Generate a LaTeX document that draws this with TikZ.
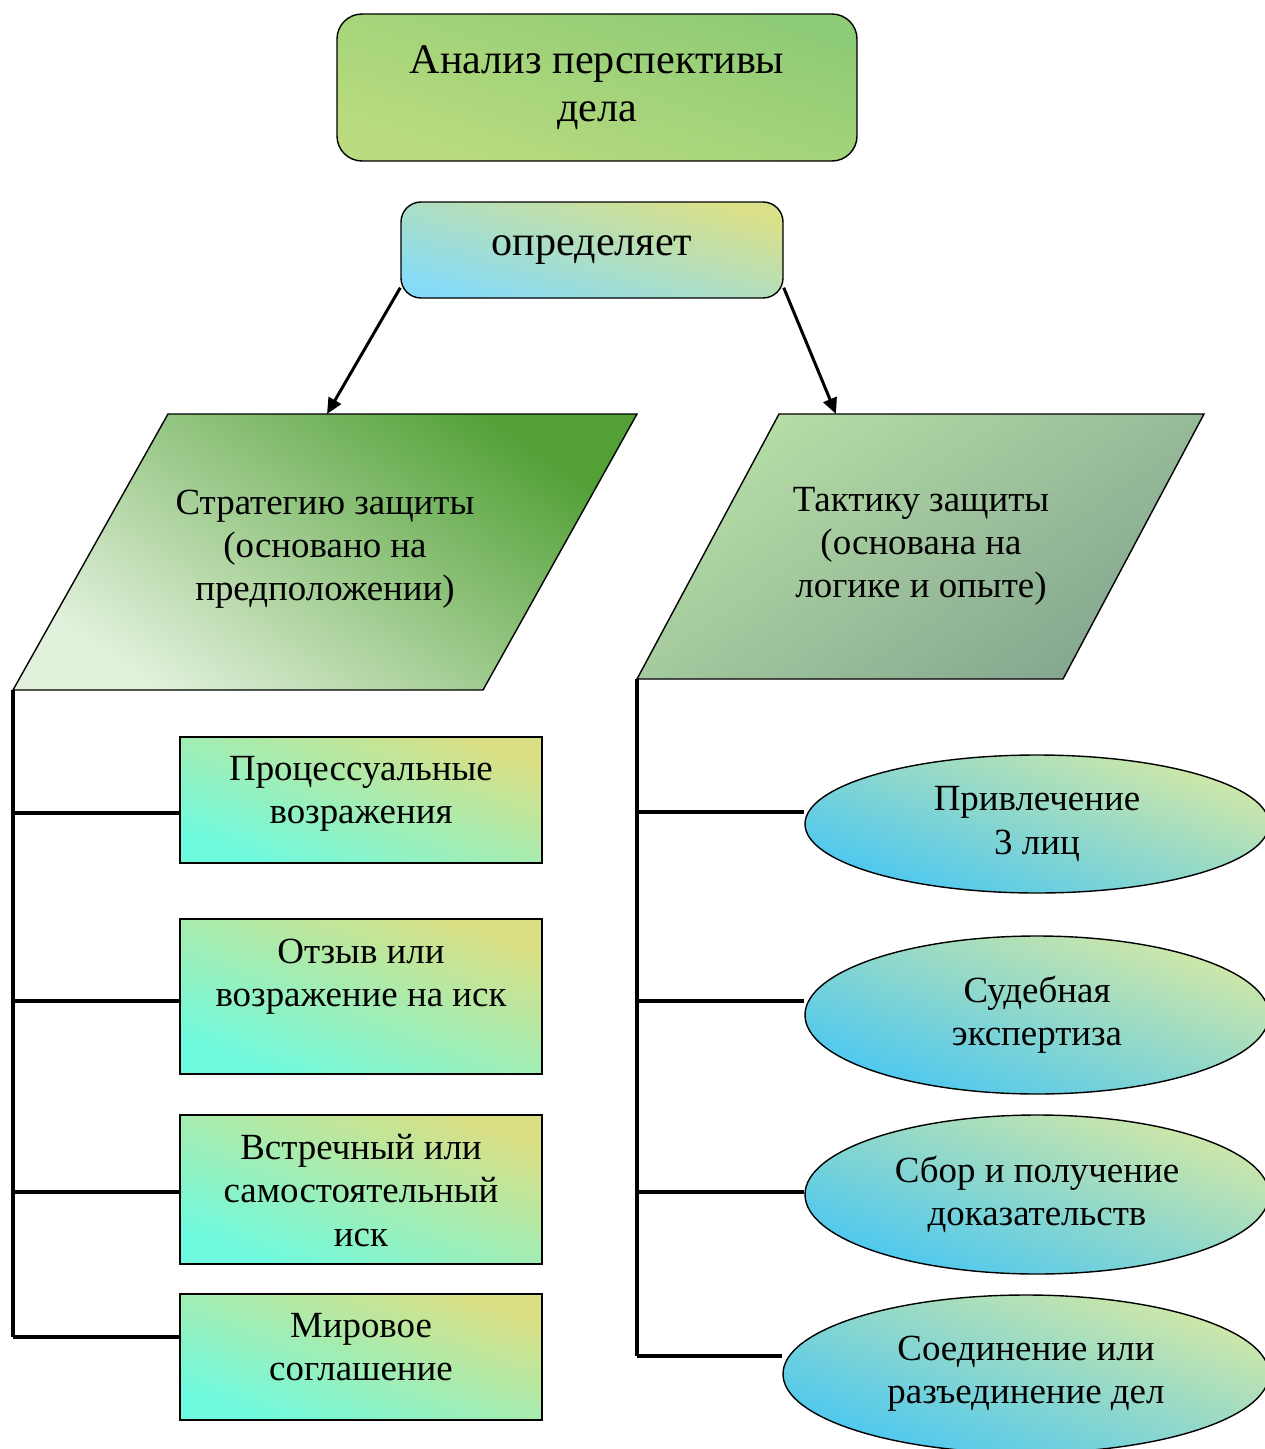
\documentclass[tikz,border=0pt]{standalone}
\usepackage{fontspec}
\setmainfont{Liberation Serif}
\usetikzlibrary{positioning}
\usetikzlibrary{arrows.meta}
\usetikzlibrary{shapes.geometric}
\definecolor{title_low}{HTML}{BADC7E}
\definecolor{title_high}{HTML}{8ECB76}
\definecolor{verb_low}{HTML}{86DCF8}
\definecolor{verb_high}{HTML}{DAE088}
\definecolor{strat_low}{HTML}{E2F1DC}
\definecolor{strat_high}{HTML}{52A036}
\definecolor{tact_low}{HTML}{B6DEA6}
\definecolor{tact_high}{HTML}{84A690}
\definecolor{box_low}{HTML}{6EFADF}
\definecolor{box_high}{HTML}{DADF84}
\definecolor{oval_low}{HTML}{4AC7F2}
\definecolor{oval_high}{HTML}{D2E8A6}
\tikzset{
        textnode/.style={align=center,inner sep=0pt,font=\fontsize{21}{24.5}\selectfont},
        % Title box
        node_title/.style={textnode, rectangle, rounded corners=0.5cm, draw=black, line width=0.8pt,
            bottom color=title_low, top color=title_high, shading angle=-18,
            minimum width=10.4cm, minimum height=2.94cm, font=\fontsize{24}{27.5}\selectfont},
        % Verb box
        node_verb/.style={textnode, rectangle, rounded corners=0.4cm, draw=black, line width=0.8pt,
            bottom color=verb_low, top color=verb_high, shading angle=-16,
            minimum width=7.64cm, minimum height=1.92cm, font=\fontsize{24}{27.5}\selectfont},
        % Strategy and tactics shapes
        shape_strategy/.style={draw=black, line width=0.8pt, bottom color=strat_low, top color=strat_high, shading angle=-35},
        shape_tactics/.style={draw=black, line width=0.8pt, top color=tact_low, bottom color=tact_high, shading angle=35},
        % Left boxes
        node_box/.style={rectangle, draw=black, line width=0.8pt, inner sep=0pt,
            bottom color=box_low, top color=box_high, shading angle=-21, minimum width=7.24cm},
        % Right ovals
        node_oval/.style={textnode, ellipse, draw=black, line width=0.8pt,
            bottom color=oval_low, top color=oval_high, shading angle=-20},
        arrow_link/.style={line width=1.7pt, -{Triangle[length=9pt,width=8pt]}},
        branch_line/.style={line width=2.3pt}
}
\begin{document}
\begin{tikzpicture}
    \useasboundingbox (0,0) rectangle (25.28,-28.98);

    \node[node_title] (title) at (11.94,-1.75) {Анализ перспективы\\дела};
    \node[node_verb] (verb) at (11.84,-5.0) {определяет};

    % strategy
    \coordinate (s1) at (3.36,-8.28);
    \coordinate (s2) at (12.74,-8.28);
    \coordinate (s3) at (9.66,-13.8);
    \coordinate (s4) at (0.26,-13.8);
    \path[shape_strategy] (s1) -- (s2) -- (s3) -- (s4) -- cycle;
    \node[textnode] (strategy) at (6.5,-10.98) {Стратегию защиты\\(основано на\\предположении)};
    \coordinate (strategy_top) at (6.54,-8.28);

    % tactics
    \coordinate (t1) at (15.58,-8.28);
    \coordinate (t2) at (24.08,-8.28);
    \coordinate (t3) at (21.26,-13.58);
    \coordinate (t4) at (12.74,-13.58);
    \path[shape_tactics] (t1) -- (t2) -- (t3) -- (t4) -- cycle;
    \node[textnode] (tactics) at (18.42,-10.93) {Тактику защиты\\(основана на\\логике и опыте)};
    \coordinate (tactics_top) at (16.72,-8.28);

    \draw[arrow_link] ([yshift=0.22cm]verb.south west) -- (strategy_top);
    \draw[arrow_link] ([yshift=0.22cm]verb.south east) -- (tactics_top);

    % left boxes
    \node[node_box, minimum height=2.52cm] (proc) at (7.22,-16.0) {};
    \node[textnode, below=0.4cm of proc.north] (proc_text) {Процессуальные\\возражения};
    \node[node_box, minimum height=3.1cm] (reply) at (7.22,-19.93) {};
    \node[textnode, below=0.4cm of reply.north] (reply_text) {Отзыв или\\возражение на иск};
    \node[node_box, minimum height=2.98cm] (counter) at (7.22,-23.79) {};
    \node[textnode, below=0.4cm of counter.north] (counter_text) {Встречный или\\самостоятельный\\иск};
    \node[node_box, minimum height=2.52cm] (settle) at (7.22,-27.14) {};
    \node[textnode, below=0.4cm of settle.north] (settle_text) {Мировое\\соглашение};

    % right ovals
    \node[node_oval, minimum width=9.28cm, minimum height=2.76cm] (third) at (20.74,-16.48) {Привлечение\\3 лиц};
    \node[node_oval, minimum width=9.28cm, minimum height=3.16cm] (expert) at (20.74,-20.3) {Судебная\\экспертиза};
    \node[node_oval, minimum width=9.28cm, minimum height=3.18cm] (proof) at (20.74,-23.89) {Сбор и получение\\доказательств};
    \node[node_oval, minimum width=9.72cm, minimum height=3.16cm] (join) at (20.52,-27.48) {Соединение или\\разъединение дел};

    % branches
    \foreach \i/\y/\n in {1/-16.26/proc, 2/-20.02/reply, 3/-23.84/counter, 4/-26.74/settle} {
        \coordinate (lb\i) at (0.26,\y);
        \draw[branch_line] (lb\i) -- (lb\i -| \n.west);
    }
    \draw[branch_line] (s4) -- (lb4);
    \foreach \i/\y/\n in {1/-16.24/third, 2/-20.02/expert, 3/-23.84/proof, 4/-27.12/join} {
        \coordinate (rb\i) at (12.74,\y);
        \draw[branch_line] (rb\i) -- (rb\i -| \n.west);
    }
    \draw[branch_line] (t4) -- (rb4);
\end{tikzpicture}
\end{document}
